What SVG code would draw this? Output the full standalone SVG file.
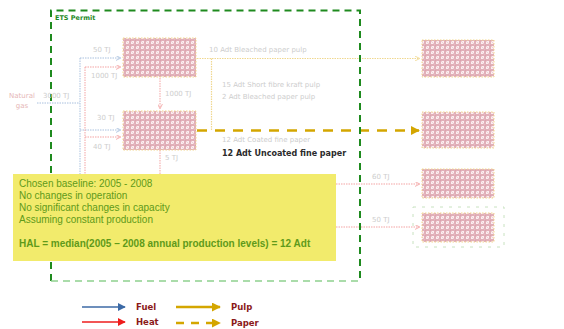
<svg xmlns="http://www.w3.org/2000/svg" width="564" height="329" viewBox="0 0 564 329">
<defs>
<pattern id="hatch" width="5" height="5" patternUnits="userSpaceOnUse">
<rect width="5" height="5" fill="#fbeef0"/>
<rect x="0.5" y="0.5" width="4" height="4" fill="none" stroke="#dba0ab" stroke-width="0.8"/>
<line x1="1" y1="1" x2="4" y2="4" stroke="#e7b9c1" stroke-width="0.6"/>
</pattern>
<marker id="arrBlueF" viewBox="0 0 6 6" refX="5" refY="3" markerWidth="5" markerHeight="5" orient="auto" markerUnits="userSpaceOnUse"><path d="M0,0 L6,3 L0,6" fill="none" stroke="#a9c0de" stroke-width="1"/></marker>
<marker id="arrRedF" viewBox="0 0 6 6" refX="5" refY="3" markerWidth="5" markerHeight="5" orient="auto" markerUnits="userSpaceOnUse"><path d="M0,0 L6,3 L0,6" fill="none" stroke="#f3a3a3" stroke-width="1"/></marker>
<marker id="arrGoldF" viewBox="0 0 6 6" refX="5" refY="3" markerWidth="5" markerHeight="5" orient="auto" markerUnits="userSpaceOnUse"><path d="M0,0 L6,3 L0,6" fill="none" stroke="#f0d890" stroke-width="1"/></marker>
<marker id="arrGold" viewBox="0 0 10 10" refX="9" refY="5" markerWidth="9" markerHeight="9" orient="auto" markerUnits="userSpaceOnUse"><path d="M0,0 L10,5 L0,10 Z" fill="#d4a600"/></marker>
<marker id="arrBlue" viewBox="0 0 10 10" refX="9" refY="5" markerWidth="8" markerHeight="8" orient="auto" markerUnits="userSpaceOnUse"><path d="M0,0 L10,5 L0,10 Z" fill="#3c6aa6"/></marker>
<marker id="arrRed" viewBox="0 0 10 10" refX="9" refY="5" markerWidth="8" markerHeight="8" orient="auto" markerUnits="userSpaceOnUse"><path d="M0,0 L10,5 L0,10 Z" fill="#ee1c1c"/></marker>
</defs>
<style>
.node{fill:url(#hatch);stroke:#f2d88f;stroke-width:1;stroke-dasharray:1.5 1.5}
.faint{font-family:"DejaVu Sans",sans-serif;font-size:7px;fill:#cdcdcd}
.faintp{font-family:"DejaVu Sans",sans-serif;font-size:7px;fill:#e6b7b7}
.fuelF{fill:none;stroke:#a9c0de;stroke-width:1;stroke-dasharray:1.5 1}
.heatF{fill:none;stroke:#f3a3a3;stroke-width:1;stroke-dasharray:1.5 1}
.pulpF{fill:none;stroke:#f0d890;stroke-width:1.2;stroke-dasharray:1.5 1}
.ets{fill:none;stroke:#1e8a1e;stroke-width:2;stroke-dasharray:7 5}
.note{font-family:"Liberation Sans",Arial,sans-serif;font-size:10px;fill:#5f9a1a}
.leg{font-family:"DejaVu Sans",sans-serif;font-size:8.5px;font-weight:bold;fill:#8b1a1a}
</style>

<g id="connectors">
<path class="fuelF" d="M37,103 H80"/>
<path class="fuelF" d="M80,58 V175"/>
<path class="fuelF" d="M80,58 H120" marker-end="url(#arrBlueF)"/>
<path class="fuelF" d="M80,130 H120" marker-end="url(#arrBlueF)"/>
<path class="heatF" d="M85,67 V175"/>
<path class="heatF" d="M85,67 H120" marker-end="url(#arrRedF)"/>
<path class="heatF" d="M85,137 H120" marker-end="url(#arrRedF)"/>
<path class="heatF" d="M160,78 V108" marker-end="url(#arrRedF)"/>
<path class="heatF" d="M160,150 V175"/>
<path class="heatF" d="M336,184 H419" marker-end="url(#arrRedF)"/>
<path class="heatF" d="M336,227 H419" marker-end="url(#arrRedF)"/>
<path class="pulpF" d="M197,58.5 H419" marker-end="url(#arrGoldF)"/>
<path class="pulpF" d="M211.5,58.5 V130"/>
<path d="M197,130.5 H419" fill="none" stroke="#d4a600" stroke-width="2.5" stroke-dasharray="10 8" marker-end="url(#arrGold)"/>
</g>

<g id="ets-permit">
<path class="ets" d="M51,281 V10.5 H360 V281"/>
<path d="M51,281 H360" fill="none" stroke="#8fd18f" stroke-width="1.5" stroke-dasharray="7 5"/>
<text x="55" y="20" font-family="DejaVu Sans,sans-serif" font-size="6.5" font-weight="bold" fill="#1e8a1e">ETS Permit</text>
</g>

<g id="natural-gas">
<text class="faintp" x="22" y="98" text-anchor="middle">Natural</text>
<text class="faintp" x="22" y="108" text-anchor="middle">gas</text>
<text class="faint" x="43" y="98">3000 TJ</text>
</g>

<g id="node-a">
<rect class="node" x="123" y="38" width="73" height="39"/>
<text class="faint" x="93" y="52">50 TJ</text>
<text class="faint" x="91" y="78">1000 TJ</text>
<text class="faint" x="165" y="96">1000 TJ</text>
</g>

<g id="node-b">
<rect class="node" x="123" y="111" width="73" height="39"/>
<text class="faint" x="97" y="120">30 TJ</text>
<text class="faint" x="93" y="149">40 TJ</text>
<text class="faint" x="165" y="160">5 TJ</text>
</g>

<g id="pulp-labels">
<text class="faint" x="209" y="52">10 Adt Bleached paper pulp</text>
<text class="faint" x="222" y="87">15 Adt Short fibre kraft pulp</text>
<text class="faint" x="222" y="99">2 Adt Bleached paper pulp</text>
<text class="faint" x="222" y="142">12 Adt Coated fine paper</text>
<text x="222" y="156" font-family="DejaVu Sans,sans-serif" font-size="8" font-weight="bold" fill="#2b2b2b">12 Adt Uncoated fine paper</text>
</g>

<g id="node-c"><rect class="node" x="422" y="40" width="72" height="37"/></g>
<g id="node-d"><rect class="node" x="422" y="112" width="72" height="36"/></g>
<g id="node-e">
<rect class="node" x="422" y="169" width="72" height="29"/>
<text class="faint" x="372" y="179">60 TJ</text>
</g>
<g id="node-f">
<rect x="413" y="207" width="91" height="40" fill="none" stroke="#c8e2c0" stroke-width="1" stroke-dasharray="3 6"/>
<rect class="node" x="422" y="213" width="72" height="29"/>
<text class="faint" x="372" y="222">50 TJ</text>
</g>

<g id="note">
<rect x="13" y="174" width="323" height="87" fill="#f2eb6c"/>
<text class="note" x="19" y="187">Chosen baseline: 2005 - 2008</text>
<text class="note" x="19" y="199">No changes in operation</text>
<text class="note" x="19" y="211">No significant changes in capacity</text>
<text class="note" x="19" y="223">Assuming constant production</text>
<text class="note" x="19" y="247" font-weight="bold" font-size="10.3">HAL = median(2005 – 2008 annual production levels) = 12 Adt</text>
</g>

<g id="legend">
<line x1="82" y1="307" x2="125" y2="307" stroke="#3c6aa6" stroke-width="1.5" marker-end="url(#arrBlue)"/>
<text class="leg" x="136" y="310">Fuel</text>
<line x1="82" y1="322" x2="125" y2="322" stroke="#ee1c1c" stroke-width="1.5" marker-end="url(#arrRed)"/>
<text class="leg" x="136" y="325">Heat</text>
<line x1="176" y1="307" x2="220" y2="307" stroke="#d4a600" stroke-width="2.5" marker-end="url(#arrGold)"/>
<text class="leg" x="231" y="310">Pulp</text>
<line x1="176" y1="323" x2="220" y2="323" stroke="#d4a600" stroke-width="2.5" stroke-dasharray="8 7" marker-end="url(#arrGold)"/>
<text class="leg" x="231" y="326">Paper</text>
</g>
</svg>
